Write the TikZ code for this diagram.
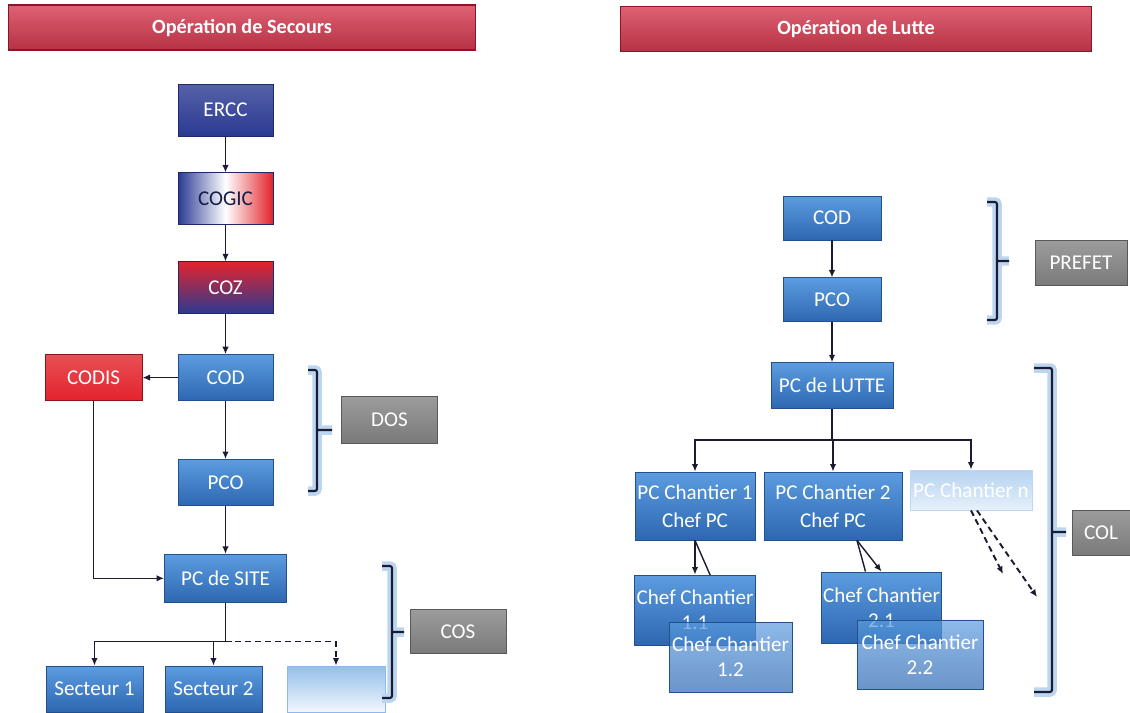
\documentclass[tikz,border=0pt]{standalone}
\usepackage{fontspec}
\setmainfont{Carlito}
\usepackage{tikz}
\usetikzlibrary{positioning, arrows.meta, calc, backgrounds}
\definecolor{navy}{HTML}{2B3A92}
\definecolor{flagred}{HTML}{E3232C}
\definecolor{boxtop}{HTML}{5C9CE0}
\definecolor{boxbot}{HTML}{2D67B1}
\definecolor{boxedge}{HTML}{234F8A}
\definecolor{hdrred}{HTML}{D63A50}
\definecolor{hdrdark}{HTML}{8E1328}
\definecolor{greytop}{HTML}{9C9C9C}
\definecolor{greybot}{HTML}{7A7A7A}
\definecolor{glow}{HTML}{BCD6F2}
\definecolor{ink}{HTML}{1C1C30}
\tikzset{
  box/.style={rectangle, draw=boxedge, line width=0.5pt, top color=boxtop,
              bottom color=boxbot, text=white, align=center,
              font=\fontsize{12}{14}\selectfont, minimum width=19mm,
              minimum height=9.2mm, inner sep=1pt},
  navybox/.style={box, draw=navy!70!black, top color=navy!80!white,
                  bottom color=navy, minimum height=10.4mm},
  flagbox/.style={box, draw=navy!70!black, left color=navy, right color=flagred,
                  middle color=white, text=navy!50!black, minimum height=10.4mm},
  zonebox/.style={box, draw=navy!70!black, top color=flagred,
                  bottom color=navy, minimum height=10.4mm},
  redbox/.style={box, draw=flagred!60!black, top color=flagred!80!white,
                 bottom color=flagred},
  greybox/.style={box, draw=black!65, top color=greytop, bottom color=greybot},
  blankbox/.style={box, draw=boxtop!70, top color=boxtop!65, bottom color=boxtop!8},
  fadedbox/.style={box, draw=boxtop!40, top color=boxtop!45, bottom color=boxtop!15},
  chefbox/.style={box, minimum width=24mm, minimum height=14mm},
  hdr/.style={rectangle, draw=hdrdark, line width=0.6pt, top color=hdrred!80!white,
              bottom color=hdrred!85!black, text=white, minimum height=9mm,
              font=\bfseries\fontsize{11.5}{13}\selectfont},
  ar/.style={-{Latex[length=1.5mm, width=1.3mm]}, line width=0.8pt, ink},
  dsh/.style={ar, dash pattern=on 1.2mm off 0.8mm},
  brk/.style={line width=1.2pt, draw=ink, rounded corners=1.2pt,
              preaction={draw=glow, line width=1.9mm}},
}
\begin{document}
\begin{tikzpicture}[x=0.02cm, y=-0.02cm]
  \useasboundingbox (0,0) rectangle (1130,713);

  % headers
  \node[hdr, minimum width=93.6mm] (hsec) at (242,27.5) {Opération de Secours};
  \node[hdr, minimum width=94.4mm] (hlut) at (856,29) {Opération de Lutte};

  % secours chain
  \node[navybox] (ercc) at (225.5,110) {ERCC};
  \node[flagbox, below=7.2mm of ercc] (cogic) {COGIC};
  \node[zonebox, below=7.2mm of cogic] (coz) {COZ};
  \node[box, below=8mm of coz] (cod) {COD};
  \node[redbox, left=7mm of cod, minimum width=19.4mm] (codis) {CODIS};
  \node[box, below=11.6mm of cod] (pco) {PCO};
  \node[box, below=9.6mm of pco, minimum width=24.4mm, minimum height=9.6mm] (pcsite) {PC de SITE};
  \node[box, minimum width=19.4mm] (sect1) at (94.5,689) {Secteur 1};
  \node[box, minimum width=19.4mm] (sect2) at (213.5,689) {Secteur 2};
  \node[blankbox, minimum width=19.6mm] (blank) at (336,689) {};
  \node[greybox, minimum width=19.2mm, minimum height=9.4mm] (dos) at (389.5,419.5) {DOS};
  \node[greybox, minimum width=19.2mm, minimum height=8.8mm] (cos) at (458,631.5) {COS};

  % lutte chain
  \node[box, minimum width=19.6mm, minimum height=8.8mm] (cod2) at (832,218) {COD};
  \node[box, below=7.4mm of cod2, minimum width=19.6mm, minimum height=8.8mm] (pco2) {PCO};
  \node[box, below=8mm of pco2, minimum width=24.4mm] (lutte) {PC de LUTTE};
  \node[chefbox, minimum height=13.6mm] (pcc1) at (695,506) {PC Chantier 1\\[2pt]Chef PC};
  \node[chefbox, minimum width=27.6mm, minimum height=13.6mm] (pcc2) at (833,506) {PC Chantier 2\\[2pt]Chef PC};
  \node[fadedbox, minimum width=24.4mm, minimum height=8mm] (pccn) at (971,490) {PC Chantier n};
  \node[chefbox] (cc11) at (695,610) {Chef Chantier\\1.1};
  \node[chefbox, minimum width=24.6mm, fill opacity=0.7, text opacity=1] (cc12) at (730.5,657) {Chef Chantier\\1.2};
  \node[chefbox, minimum width=23.8mm, minimum height=14.2mm] (cc21) at (881.5,607.5) {Chef Chantier\\2.1};
  \node[chefbox, minimum width=25.2mm, minimum height=13.8mm, fill opacity=0.7, text opacity=1] (cc22) at (920,655) {Chef Chantier\\2.2};
  \node[greybox, minimum width=18.4mm, minimum height=9mm] (prefet) at (1081,263) {PREFET};
  \node[greybox, minimum width=11.6mm, minimum height=9mm] (col) at (1101,532.5) {COL};

  % secours links
  \draw[ar] (ercc) -- (cogic);
  \draw[ar] (cogic) -- (coz);
  \draw[ar] (coz) -- (cod);
  \draw[ar] (cod) -- (codis);
  \draw[ar] (cod) -- (pco);
  \draw[ar] (pco) -- (pcsite);
  \draw[ar] (codis) |- (pcsite);
  \coordinate (fork) at ($(pcsite.south)+(0,39)$);
  \draw[ar, -] (pcsite) -- (fork);
  \draw[ar] (fork) -| (sect1);
  \draw[ar] (fork -| sect2) -- (sect2);
  \draw[dsh] (fork) -| (blank);

  % lutte links
  \draw[ar] (cod2) -- (pco2);
  \draw[ar] (pco2) -- (lutte);
  \coordinate (fork2) at ($(lutte.south)+(0,31)$);
  \draw[ar, -] (lutte) -- (fork2);
  \draw[ar] (fork2) -| (pcc1);
  \draw[ar] (fork2) -| (pcc2);
  \draw[ar] (fork2) -| (pccn);
  \draw[ar] (pcc1) -- (cc11);
  \begin{scope}[on background layer]
    \draw[ar] (pcc1.south) -- (cc12.north);
  \end{scope}
  \draw[ar] ([xshift=4.8mm]pcc2.south) -- (cc21.north);
  \draw[ar, -] ([xshift=4.8mm]pcc2.south) -- ([xshift=-3.2mm]cc21.north);
  \coordinate (dn1) at (1003,574);
  \coordinate (dn2) at (1037,597);
  \draw[dsh, line width=1.1pt] (pccn.south) -- (dn1);
  \draw[dsh, line width=1.1pt] ([xshift=1.2mm]pccn.south) -- (dn2);

  % brackets
  \draw[brk] (308,370) -- (317,370) -- (317,491) -- (308,491) (317,430) -- (332,430);
  \draw[brk] (382,566) -- (392,566) -- (392,698) -- (382,698) (392,632) -- (404,632);
  \draw[brk] (987,202) -- (997,202) -- (997,320) -- (987,320) (997,261) -- (1009,261);
  \draw[brk] (1034,368) -- (1052,368) -- (1052,692) -- (1034,692) (1052,532) -- (1066,532);
\end{tikzpicture}
\end{document}
